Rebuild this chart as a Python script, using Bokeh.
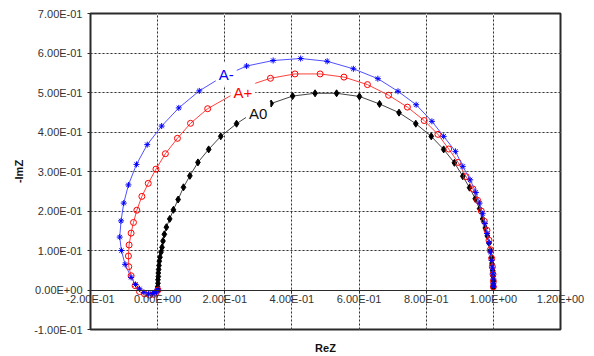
from bokeh.plotting import figure
from bokeh.models import (LinearAxis, FixedTicker, CustomJSTickFormatter, Grid,
                          Range1d, Label, ColumnDataSource)
from bokeh.embed import file_html
from bokeh.resources import INLINE

# ---------------- data ----------------
a_minus_re = [0.001, -0.003, -0.008, -0.015, -0.027, -0.041, -0.054, -0.066, -0.079, -0.097,
              -0.108, -0.113, -0.109, -0.101, -0.087, -0.063, -0.031, 0.012, 0.063, 0.124,
              0.193, 0.265, 0.344, 0.426, 0.505, 0.583, 0.656, 0.716, 0.770, 0.817,
              0.852, 0.887, 0.909, 0.931, 0.948, 0.959, 0.968, 0.975, 0.981, 0.987,
              0.991, 0.995, 0.997, 0.999, 1.000, 1.000, 1.000]
a_minus_im = [0.000, -0.003, -0.007, -0.009, -0.010, -0.006, 0.003, 0.014, 0.032, 0.065,
              0.100, 0.134, 0.175, 0.220, 0.266, 0.318, 0.368, 0.415, 0.461, 0.504,
              0.540, 0.567, 0.581, 0.586, 0.579, 0.560, 0.535, 0.503, 0.469, 0.427,
              0.389, 0.351, 0.313, 0.279, 0.247, 0.220, 0.193, 0.168, 0.143, 0.119,
              0.096, 0.075, 0.056, 0.041, 0.028, 0.017, 0.009]

a_plus_re = [0.001, -0.004, -0.012, -0.024, -0.039, -0.054, -0.067, -0.079, -0.086, -0.087,
             -0.085, -0.079, -0.072, -0.062, -0.047, -0.028, -0.005, 0.023, 0.059, 0.098,
             0.149, 0.228, 0.272, 0.336, 0.409, 0.484, 0.555, 0.625, 0.688, 0.744,
             0.794, 0.835, 0.867, 0.895, 0.919, 0.939, 0.953, 0.964, 0.973, 0.981,
             0.987, 0.991, 0.995, 0.997, 0.999, 1.000, 1.000]
a_plus_im = [0.000, -0.006, -0.011, -0.013, -0.010, -0.004, 0.011, 0.036, 0.059, 0.086,
             0.114, 0.144, 0.171, 0.202, 0.237, 0.270, 0.306, 0.345, 0.384, 0.422,
             0.459, 0.497, 0.518, 0.536, 0.547, 0.547, 0.539, 0.520, 0.493, 0.463,
             0.429, 0.394, 0.357, 0.323, 0.287, 0.256, 0.227, 0.200, 0.174, 0.151,
             0.126, 0.102, 0.080, 0.059, 0.040, 0.022, 0.008]

a_zero_re = [0.000, 0.000, 0.001, 0.001, 0.002, 0.002, 0.003, 0.004, 0.005, 0.007,
             0.010, 0.013, 0.016, 0.020, 0.026, 0.036, 0.047, 0.061, 0.077, 0.096,
             0.120, 0.152, 0.188, 0.235, 0.285, 0.338, 0.402, 0.469, 0.533, 0.601,
             0.661, 0.719, 0.769, 0.815, 0.852, 0.884, 0.909, 0.929, 0.946, 0.959,
             0.968, 0.976, 0.982, 0.987, 0.991, 0.994, 0.996, 0.998, 0.999, 1.000,
             1.000, 1.000]
a_zero_im = [0.002, 0.008, 0.017, 0.026, 0.034, 0.043, 0.052, 0.062, 0.073, 0.083,
             0.096, 0.108, 0.124, 0.141, 0.159, 0.180, 0.203, 0.229, 0.260, 0.289,
             0.323, 0.356, 0.389, 0.421, 0.449, 0.472, 0.491, 0.498, 0.498, 0.490,
             0.471, 0.449, 0.421, 0.389, 0.356, 0.322, 0.288, 0.259, 0.231, 0.206,
             0.180, 0.157, 0.137, 0.119, 0.100, 0.083, 0.066, 0.049, 0.035, 0.023,
             0.013, 0.006]

x_ticks = [-0.2, 0.0, 0.2, 0.4, 0.6, 0.8, 1.0, 1.2]
y_ticks = [-0.1, 0.0, 0.1, 0.2, 0.3, 0.4, 0.5, 0.6, 0.7]
x_title = "ReZ"
y_title = "-ImZ"
series_names = ["A-", "A+", "A0"]

# ---------------- figure ----------------
FONT = "Liberation Sans"
p = figure(width=594, height=356, output_backend="svg", toolbar_location=None,
           x_axis_location=None, y_axis_location=None,
           x_range=Range1d(-0.2, 1.2), y_range=Range1d(-0.1, 0.7),
           min_border_left=90, min_border_right=34, min_border_top=13, min_border_bottom=27)
p.background_fill_color = "white"
p.border_fill_color = "white"
p.outline_line_color = "#2a2a2a"
p.outline_line_width = 2

fmt = CustomJSTickFormatter(code="""
    if (Math.abs(tick) < 1e-12) { return '0.00E+00'; }
    const e = Math.floor(Math.log10(Math.abs(tick)) + 1e-9);
    const m = tick / Math.pow(10, e);
    const s = e < 0 ? '-' : '+';
    return m.toFixed(2) + 'E' + s + String(Math.abs(e)).padStart(2, '0');
""")

# grids
grid_kw = dict(grid_line_color="#333333", grid_line_dash="2 2", grid_line_width=1)
p.add_layout(Grid(dimension=0, ticker=FixedTicker(ticks=x_ticks), **grid_kw))
p.add_layout(Grid(dimension=1, ticker=FixedTicker(ticks=y_ticks), **grid_kw))

# y axis
yax = LinearAxis(ticker=FixedTicker(ticks=y_ticks), formatter=fmt,
                 axis_label=y_title, axis_label_text_font=FONT,
                 axis_label_text_font_size="11px", axis_label_text_font_style="bold",
                 axis_label_text_color="#111", axis_label_standoff=6,
                 major_label_text_font=FONT, major_label_text_font_size="11px",
                 major_label_text_color="#333", major_label_standoff=5,
                 major_tick_in=0, major_tick_out=3, major_tick_line_color="#2a2a2a",
                 minor_tick_line_color=None, axis_line_color=None)
p.add_layout(yax, "left")

# x axis line and ticks crossing at y = 0
xax = LinearAxis(ticker=FixedTicker(ticks=x_ticks), fixed_location=0,
                 major_label_text_font_size="0px", major_label_text_alpha=0,
                 major_tick_in=0, major_tick_out=3, major_tick_line_color="#2a2a2a",
                 minor_tick_line_color=None, axis_line_color="#2a2a2a", axis_line_width=1.2)
p.add_layout(xax, "below")

# x tick labels: bottom axis whose labels are lifted up to sit under the y = 0 line
xlab = LinearAxis(ticker=FixedTicker(ticks=x_ticks), formatter=fmt,
                  major_label_text_font=FONT, major_label_text_font_size="11px",
                  major_label_text_color="#333", major_label_standoff=-37,
                  major_tick_in=0, major_tick_out=0, major_tick_line_color=None,
                  minor_tick_line_color=None, axis_line_color=None,
                  axis_label=x_title, axis_label_text_font=FONT,
                  axis_label_text_font_size="11px", axis_label_text_font_style="bold",
                  axis_label_text_color="#111", axis_label_standoff=34)
p.add_layout(xlab, "below")

# series
src_m = ColumnDataSource(dict(x=a_minus_re, y=a_minus_im))
src_p = ColumnDataSource(dict(x=a_plus_re, y=a_plus_im))
src_0 = ColumnDataSource(dict(x=a_zero_re, y=a_zero_im))

p.line("x", "y", source=src_0, line_color="#444444", line_width=1)
p.scatter("x", "y", source=src_0, marker="diamond", size=7, fill_color="black",
          line_color="black")

p.line("x", "y", source=src_p, line_color="#ff4040", line_width=1)
p.scatter("x", "y", source=src_p, marker="circle", size=6, fill_color=None,
          line_color="#ff0000", line_width=1)

p.line("x", "y", source=src_m, line_color="#5050ff", line_width=1)
p.scatter("x", "y", source=src_m, marker="asterisk", size=6, line_color="#0000ff",
          line_width=1)

# series labels
label_kw = dict(text_font=FONT, text_font_size="15px", text_baseline="middle",
                text_align="left", background_fill_color="white", padding=3)
p.add_layout(Label(x=0.173, y=0.546, text=series_names[0], text_color="#0000ff", **label_kw))
p.add_layout(Label(x=0.217, y=0.500, text=series_names[1], text_color="#ff0000", **label_kw))
p.add_layout(Label(x=0.263, y=0.448, text=series_names[2], text_color="#111111", **label_kw))

open("out.html", "w").write(file_html(p, INLINE))
